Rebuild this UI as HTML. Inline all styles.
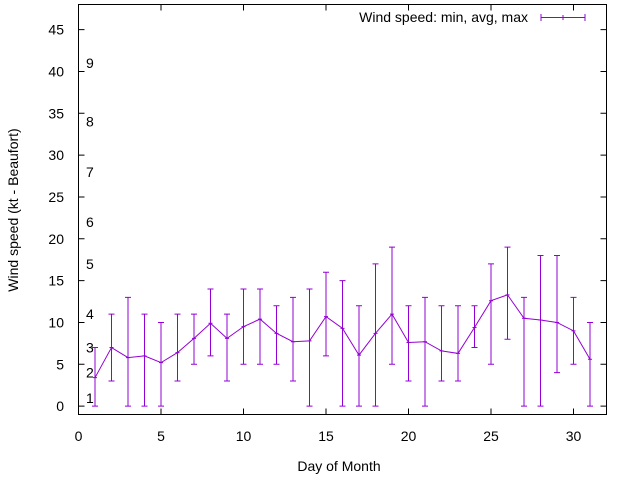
<!DOCTYPE html>
<html><head><meta charset="utf-8"><style>
body{margin:0;background:#fff}
svg{display:block;font-family:"Liberation Sans",sans-serif}
</style></head><body>
<svg id="chart" width="640" height="480" xmlns="http://www.w3.org/2000/svg">
<rect x="78.5" y="4.5" width="528" height="410" fill="none" stroke="#000" stroke-width="1"/>
<g id="axes"></g>
<g id="series"></g>
<text x="339" y="471" font-size="14" text-anchor="middle">Day of Month</text>
<text transform="translate(18,210) rotate(-90)" font-size="14" text-anchor="middle">Wind speed (kt - Beaufort)</text>
<g>
<text x="528" y="22" font-size="14" text-anchor="end">Wind speed: min, avg, max</text>
<line x1="541" y1="17.5" x2="585" y2="17.5" stroke="#9400d3"/>
<line x1="541" y1="14" x2="541" y2="21" stroke="#9400d3"/>
<line x1="585" y1="14" x2="585" y2="21" stroke="#9400d3"/>
<line x1="563" y1="15" x2="563" y2="20" stroke="#9400d3"/>
</g>
</svg>
<script>
const days=[1,2,3,4,5,6,7,8,9,10,11,12,13,14,15,16,17,18,19,20,21,22,23,24,25,26,27,28,29,30,31];
const minVals=[0,3,0,0,0,3,5,6,3,5,5,5,3,0,6,0,0,0,5,3,0,3,3,7,5,8,0,0,4,5,0];
const avgVals=[3.4,7,5.8,6,5.2,6.4,8.1,9.9,8.1,9.5,10.4,8.7,7.7,7.8,10.7,9.3,6.1,8.7,11,7.6,7.7,6.6,6.3,9.4,12.6,13.3,10.5,10.3,10,9,5.6];
const maxVals=[7,11,13,11,10,11,11,14,11,14,14,12,13,14,16,15,12,17,19,12,13,12,12,12,17,19,13,18,18,13,10];
const xTicks=[0,5,10,15,20,25,30];
const yTicks=[0,5,10,15,20,25,30,35,40,45];
const beaufortLevels=[1,2,3,4,5,6,7,8,9];
const beaufortKnots=[1,4,7,11,17,22,28,34,41];
const NS="http://www.w3.org/2000/svg";
const X=v=>78.5+v*(528/32);
const Y=v=>414.5-(v+1)*(410/49);
function mk(tag,attrs,parent,txt){const e=document.createElementNS(NS,tag);for(const k in attrs)e.setAttribute(k,attrs[k]);if(txt!==undefined)e.textContent=txt;parent.appendChild(e);return e;}
const axes=document.getElementById('axes'),ser=document.getElementById('series');
xTicks.forEach(t=>{
  const l=mk('path',{d:`M${X(t)},414.5v-6M${X(t)},4.5v6`,stroke:'#000'},axes);
  
  
  const tx=mk('text',{x:X(t),y:441,'font-size':14,'text-anchor':'middle'},axes,String(t));
  
  
});
yTicks.forEach(t=>{
  const l=mk('path',{d:`M78.5,${Y(t)}h6M606.5,${Y(t)}h-6`,stroke:'#000'},axes);
  
  
  const tx=mk('text',{x:64,y:Y(t)+5,'font-size':14,'text-anchor':'end'},axes,String(t));
  
  
});
beaufortLevels.forEach((b,i)=>{
  const tx=mk('text',{x:86,y:Y(beaufortKnots[i])+5,'font-size':14},axes,String(b));
  
  
});
const c='#9400d3';
const pl=mk('polyline',{points:days.map((d,i)=>X(d)+','+Y(avgVals[i])).join(' '),fill:'none',stroke:c},ser);


days.forEach((d,i)=>{
  const x=X(d),y0=Y(minVals[i]),y1=Y(maxVals[i]),ya=Y(avgVals[i]);
  const p=mk('path',{d:`M${x},${y0}V${y1}M${x-3},${y0}h6M${x-3},${y1}h6M${x-2},${ya}h4`,stroke:c,fill:'none'},ser);
  
  
});
</script>
</body></html>
